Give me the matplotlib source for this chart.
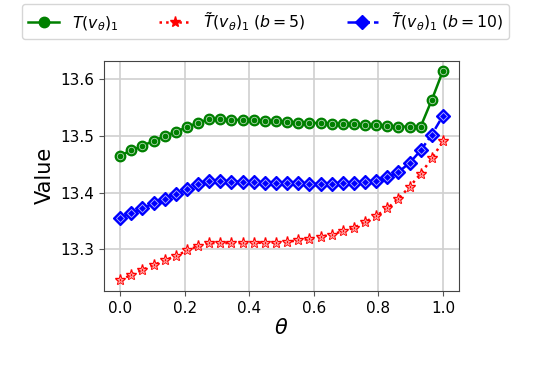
import numpy as np
import matplotlib
matplotlib.use("Agg")
import matplotlib.pyplot as plt

theta = np.linspace(0, 1, 30)

T_exact = [13.465, 13.474, 13.482, 13.491, 13.499, 13.507, 13.515, 13.523, 13.529, 13.529,
           13.528, 13.528, 13.527, 13.526, 13.525, 13.524, 13.523, 13.523, 13.522, 13.521,
           13.520, 13.520, 13.519, 13.518, 13.517, 13.516, 13.516, 13.516, 13.563, 13.614]
T_b5 = [13.246, 13.255, 13.264, 13.272, 13.281, 13.288, 13.298, 13.306, 13.311, 13.311,
        13.311, 13.311, 13.311, 13.312, 13.312, 13.313, 13.316, 13.318, 13.322, 13.326,
        13.332, 13.338, 13.348, 13.359, 13.372, 13.389, 13.410, 13.433, 13.460, 13.490]
T_b10 = [13.356, 13.364, 13.372, 13.381, 13.389, 13.398, 13.406, 13.415, 13.420, 13.420,
         13.419, 13.419, 13.418, 13.417, 13.417, 13.416, 13.416, 13.415, 13.415, 13.415,
         13.416, 13.417, 13.419, 13.421, 13.427, 13.436, 13.452, 13.474, 13.502, 13.535]

labels = [r"$T(v_\theta)_1$", r"$\tilde{T}(v_\theta)_1\;(b=5)$", r"$\tilde{T}(v_\theta)_1\;(b=10)$"]

fig = plt.figure(figsize=(5.42, 3.70), dpi=100)
ax = fig.add_axes([0.192, 0.214, 0.655, 0.622])

series = [(T_exact, "green", "-", "o", 7.5),
          (T_b5, "red", ":", "*", 8),
          (T_b10, "blue", "--", "D", 7)]
handles = []
for (vals, c, ls, m, ms), lab in zip(series, labels):
    h, = ax.plot(theta, vals, color=c, linestyle=ls, lw=1.8, marker=m, ms=ms,
                 mfc=c, mec=c, mew=1.0, label=lab)
    ax.plot(theta, vals, linestyle="none", marker=m, ms=ms * 0.62, mfc="none",
            mec="white", mew=0.6, alpha=0.7)
    handles.append(h)

ax.set_xlim(-0.05, 1.05)
ax.set_ylim(13.227, 13.632)
ax.set_xticks([0.0, 0.2, 0.4, 0.6, 0.8, 1.0])
ax.set_yticks([13.3, 13.4, 13.5, 13.6])
ax.tick_params(labelsize=11, color="#555555")
ax.grid(True, color="#d0d0d0", lw=1.2)
ax.set_axisbelow(True)
for s in ax.spines.values():
    s.set_color("#444444")
ax.set_xlabel(r"$\theta$", fontsize=15, labelpad=2)
ax.set_ylabel("Value", fontsize=15)

fig.legend(handles=handles, loc="upper center", bbox_to_anchor=(0.49, 1.0), ncol=3,
           fontsize=11.3, frameon=True, handlelength=2.0, columnspacing=2.6,
           borderaxespad=0.25)

fig.text(0.0, 0.009, r"Figure 2: The comparison of the computation of $\mathbb{T}(v_\theta)$ and of $\tilde{\mathbb{T}}(v_\theta)$",
         fontsize=13, family="DejaVu Serif", va="top")
fig.savefig("out.png", dpi=100)
